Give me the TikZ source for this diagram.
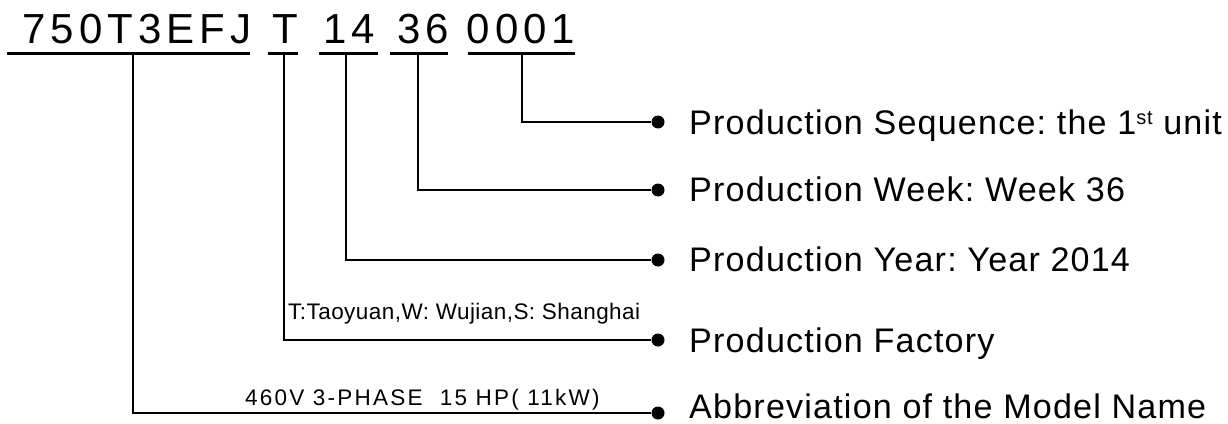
\documentclass[tikz,border=0pt]{standalone}
\usepackage{fontspec}
\setmainfont{Liberation Sans}
\newfontfamily\codefont[LetterSpace=12]{Liberation Sans}
\newfontfamily\lblfont[LetterSpace=3.5]{Liberation Sans}
\newfontfamily\notefont[LetterSpace=10]{Liberation Sans}
\newfontfamily\notefontb[LetterSpace=2]{Liberation Sans}
\frenchspacing
\begin{document}
\frenchspacing
\begin{tikzpicture}[x=1pt,y=-1pt,
  codetxt/.style={inner sep=0pt,anchor=base,font=\codefont\fontsize{42}{48}\selectfont},
  uline/.style={line width=3pt},
  conn/.style={line width=1.8pt},
  dotnode/.style={circle,fill=black,inner sep=0pt,minimum size=13pt},
  lbl/.style={inner sep=0pt,anchor=base west,font=\lblfont\fontsize{34.1}{38}\selectfont\frenchspacing},
  small/.style={inner sep=0pt,anchor=base west,font=\notefontb\fontsize{22.5}{26}\selectfont\frenchspacing},
  smallb/.style={inner sep=0pt,anchor=base west,font=\notefont\fontsize{22.5}{26}\selectfont}]
\useasboundingbox (0,0) rectangle (1228,423);
% code groups
\node[codetxt] (g1) at (137,43) {750T3EFJ};
\node[codetxt] (g2) at (285,43) {T};
\node[codetxt] (g3) at (349,43) {14};
\node[codetxt] (g4) at (423,43) {36};
\node[codetxt] (g5) at (521,43) {0001};
% underlines
\draw[uline] (7,53) -- (250,53);
\draw[uline] (268,53) -- (298,53);
\draw[uline] (319,53) -- (378,53);
\draw[uline] (390,53) -- (448,53);
\draw[uline] (468,53) -- (575,53);
\coordinate (u1) at (133,53);
\coordinate (u2) at (284,53);
\coordinate (u3) at (346,53);
\coordinate (u4) at (418,53);
\coordinate (u5) at (522,53);
% dots
\node[dotnode] (d5) at (658,122) {};
\node[dotnode] (d4) at (658,190) {};
\node[dotnode] (d3) at (658,260) {};
\node[dotnode] (d2) at (658,340) {};
\node[dotnode] (d1) at (658,413) {};
% labels
\node[lbl] (l5) at (689,134) {Production Sequence: the 1\raisebox{10pt}{\fontsize{20}{22}\selectfont st} unit};
\node[lbl] (l4) at (689,201) {Production Week: Week 36};
\node[lbl] (l3) at (689,271) {Production Year: Year 2014};
\node[lbl] (l2) at (689,352) {Production Factory};
\node[lbl] (l1) at (689,418) {Abbreviation of the Model Name};
% connectors
\draw[conn] (u5) |- (d5);
\draw[conn] (u4) |- (d4);
\draw[conn] (u3) |- (d3);
\draw[conn] (u2) |- (d2);
\draw[conn] (u1) |- (d1);
% small notes
\node[small] (n2) at (288,319) {T:Taoyuan,W: Wujian,S: Shanghai};
\node[smallb] (n1) at (245,405) {460V 3-PHASE\ \ 15 HP( 11kW)};
\end{tikzpicture}
\end{document}
